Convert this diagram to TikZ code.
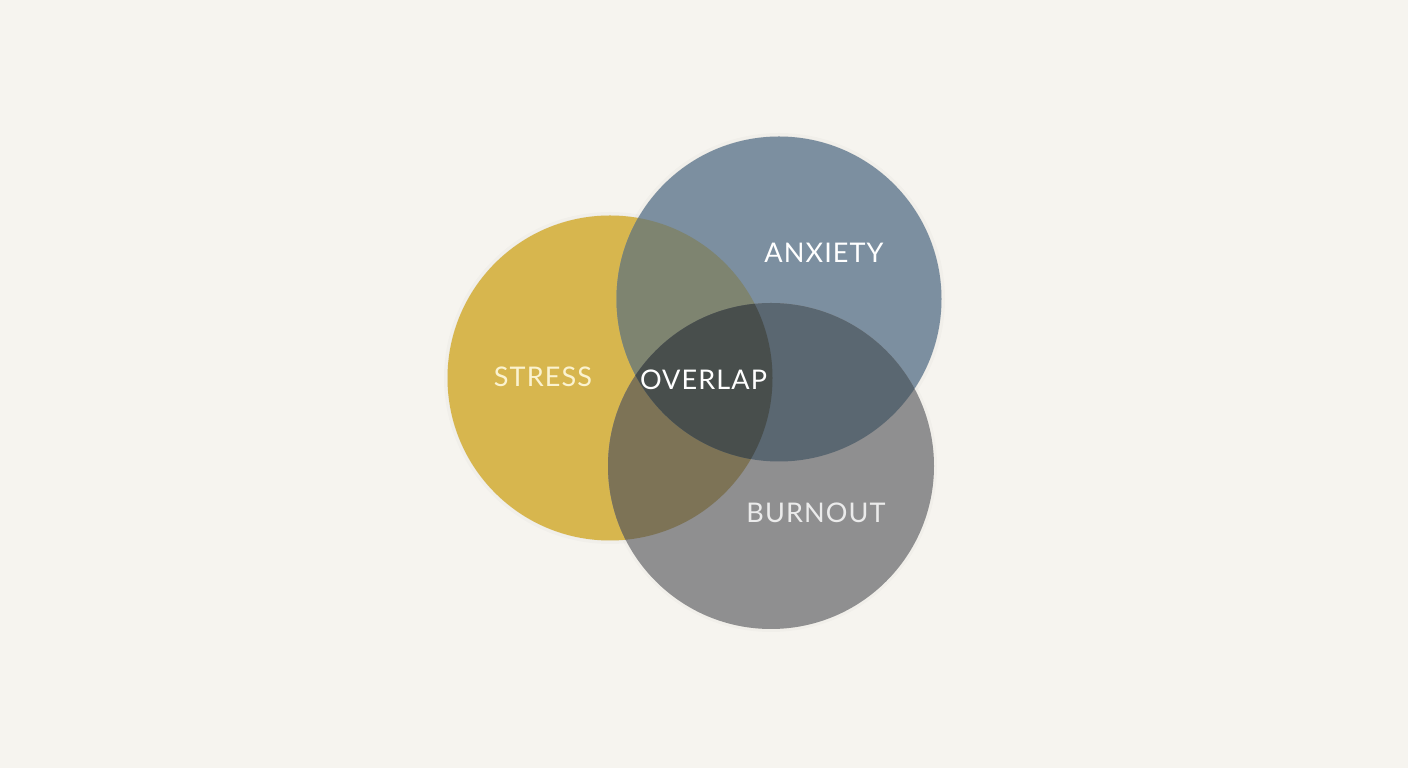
\documentclass[tikz,border=0pt]{standalone}
\usepackage{fontspec}
\setmainfont[LetterSpace=4]{Lato}
\usepackage{tikz}

\definecolor{paper}{RGB}{246,244,239}
\definecolor{stressyellow}{RGB}{215,182,78}
\definecolor{anxietyblue}{RGB}{124,143,160}
\definecolor{burnoutgray}{RGB}{143,143,144}
\definecolor{sacolor}{RGB}{126,132,112}
\definecolor{sbcolor}{RGB}{125,115,86}
\definecolor{abcolor}{RGB}{90,103,113}
\definecolor{sabcolor}{RGB}{72,78,76}
\definecolor{stresstext}{RGB}{251,243,208}

\tikzset{
  vlabel/.style={anchor=base, inner sep=0pt, text=white, font=\fontsize{7.7}{9}\selectfont},
  softshadow/.style={fill=black, opacity=0.02, shift={(0.03,-0.06)}}
}

\begin{document}
\begin{tikzpicture}

  \fill[paper] (0, 0) rectangle (14.08, 7.68);
  \useasboundingbox (0, 0) rectangle (14.08, 7.68);

  % circle centres
  \coordinate (stressC) at (6.10, 3.90);
  \coordinate (anxietyC) at (7.79, 4.69);
  \coordinate (burnoutC) at (7.71, 3.02);

  % soft shadows
  \foreach \r in {1.60, 1.63, 1.66} {
    \fill[softshadow] (stressC) circle (\r);
    \fill[softshadow] (anxietyC) circle (\r);
    \fill[softshadow] (burnoutC) circle (\r);
  }

  % single circles
  \fill[stressyellow] (stressC) circle (1.625);
  \fill[anxietyblue] (anxietyC) circle (1.625);
  \fill[burnoutgray] (burnoutC) circle (1.63);

  % pairwise overlaps
  \begin{scope}
    \clip (stressC) circle (1.625);
    \fill[sacolor] (anxietyC) circle (1.625);
    \fill[sbcolor] (burnoutC) circle (1.63);
  \end{scope}
  \begin{scope}
    \clip (anxietyC) circle (1.625);
    \fill[abcolor] (burnoutC) circle (1.63);
  \end{scope}

  % centre
  \begin{scope}
    \clip (stressC) circle (1.625);
    \clip (anxietyC) circle (1.625);
    \fill[sabcolor] (burnoutC) circle (1.63);
  \end{scope}

  \node[vlabel, text=stresstext] (stress) at (5.43, 3.81) {STRESS};
  \node[vlabel] (anxiety) at (8.24, 5.05) {ANXIETY};
  \node[vlabel] (overlap) at (7.035, 3.78) {OVERLAP};
  \node[vlabel, text=white!92!black] (burnout) at (8.16, 2.45) {BURNOUT};

\end{tikzpicture}
\end{document}
